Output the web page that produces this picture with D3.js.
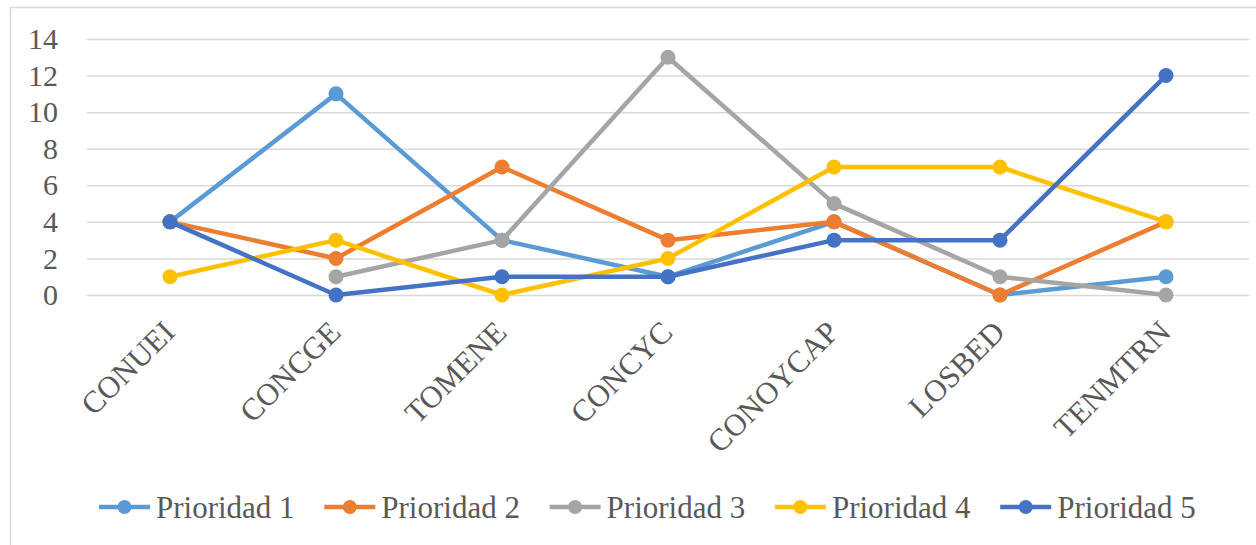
<!DOCTYPE html>
<html><head><meta charset="utf-8">
<script src="https://cdn.jsdelivr.net/npm/d3@7"></script>
<style>body{margin:0;background:#fff}svg{display:block}
svg text{font-family:"Liberation Serif","Times New Roman",serif !important;fill:#595959}</style>
</head><body>
<script>
const categories = ["CONUEI","CONCGE","TOMENE","CONCYC","CONOYCAP","LOSBED","TENMTRN"];
const seriesNames = ["Prioridad 1","Prioridad 2","Prioridad 3","Prioridad 4","Prioridad 5"];
const p1 = [4, 11, 3, 1, 4, 0, 1];
const p2 = [4, 2, 7, 3, 4, 0, 4];
const p3 = [null, 1, 3, 13, 5, 1, 0];
const p4 = [1, 3, 0, 2, 7, 7, 4];
const p5 = [4, 0, 1, 1, 3, 3, 12];
const yTicks = [0, 2, 4, 6, 8, 10, 12, 14];
const colors = ["#5B9BD5","#ED7D31","#A5A5A5","#FFC000","#4472C4"];

const values = [p1, p2, p3, p4, p5];
const W = 1256, H = 545;
const svg = d3.select("body").append("svg").attr("width", W).attr("height", H);

svg.append("rect").attr("x", 10.5).attr("y", 7.5).attr("width", W + 10).attr("height", H + 10)
  .attr("fill", "#fff").attr("stroke", "#d9d9d9").attr("stroke-width", 1.5);

const x = d3.scalePoint().domain(categories).range([87, 1249]).padding(0.5);
const y = d3.scaleLinear().domain([0, 14]).range([295, 39]);

const yAxis = svg.append("g").attr("transform", "translate(87,0)")
  .call(d3.axisLeft(y).tickValues(yTicks).tickSize(-(1249 - 87)).tickPadding(29));
yAxis.attr("font-family", null).attr("font-size", null);
yAxis.select(".domain").remove();
yAxis.selectAll(".tick line").attr("stroke", "#d9d9d9").attr("stroke-width", 1.5);
yAxis.selectAll(".tick text").style("font-size", "30px");

const xAxis = svg.append("g").attr("transform", "translate(0,295)")
  .call(d3.axisBottom(x).tickSize(0).tickPadding(0));
xAxis.attr("font-family", null).attr("font-size", null);
xAxis.select(".domain").remove();
xAxis.selectAll(".tick text")
  .style("font-size", "31px")
  .attr("text-anchor", "end").attr("dy", 0)
  .attr("transform", "translate(6,39) rotate(-45)");

const line = d3.line().defined(d => d.v !== null).x(d => x(d.c)).y(d => y(d.v));
values.forEach((arr, i) => {
  const pts = arr.map((v, j) => ({c: categories[j], v}));
  const g = svg.append("g");
  g.append("path").datum(pts).attr("d", line).attr("fill", "none")
    .attr("stroke", colors[i]).attr("stroke-width", 4.5).attr("stroke-linejoin", "round");
  g.selectAll("circle").data(pts.filter(d => d.v !== null)).join("circle")
    .attr("cx", d => x(d.c)).attr("cy", d => y(d.v)).attr("r", 7.5).attr("fill", colors[i]);
});

const legend = svg.append("g");
seriesNames.forEach((n, i) => {
  const lx = 99 + i * 225.3;
  const gi = legend.append("g").attr("transform", `translate(${lx},507)`);
  gi.append("line").attr("x1", 0).attr("x2", 51).attr("y1", 0).attr("y2", 0)
    .attr("stroke", colors[i]).attr("stroke-width", 4.5);
  gi.append("circle").attr("cx", 25.5).attr("cy", 0).attr("r", 7).attr("fill", colors[i]);
  gi.append("text").attr("x", 57).attr("y", 0).attr("dy", "0.35em")
    .style("font-size", "31px").text(n);
});
</script>
</body></html>
